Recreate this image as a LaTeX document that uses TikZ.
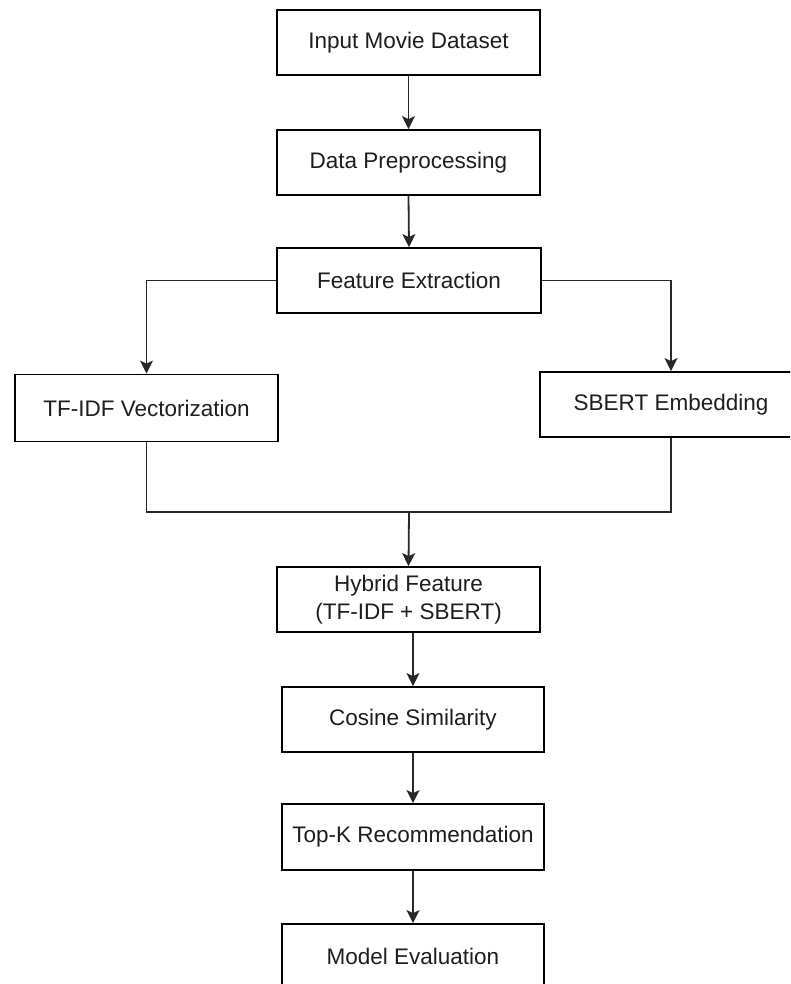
\documentclass[tikz,border=0pt]{standalone}
\usepackage{fontspec}
\setmainfont{Liberation Sans}
\usetikzlibrary{arrows.meta}
\definecolor{txt}{RGB}{30,30,30}
\definecolor{lin}{RGB}{40,40,40}
\tikzset{
  box/.style={draw=black, line width=1.8pt, fill=white, minimum width=263pt, minimum height=65pt,
    inner sep=0pt, font=\fontsize{22.5}{28}\selectfont, text=txt, align=center},
  conn/.style={line width=1.8pt, draw=lin, -{Stealth[length=13pt,width=13pt,inset=3pt]}},
  plain/.style={line width=1.8pt, draw=lin, line join=miter}
}
\begin{document}
\begin{tikzpicture}[x=1pt,y=-1pt]
\useasboundingbox (0,0) rectangle (790,984);
\fill[white] (0,0) rectangle (790,984);
\clip (0,0) rectangle (790,984);
\node[box] (inp) at (408.5,42.5) {Input Movie Dataset};
\node[box] (pre) at (408.5,162.5) {Data Preprocessing};
\node[box, minimum width=264pt] (fe) at (409,280.5) {Feature Extraction};
\node[box, minimum height=67pt] (tfidf) at (146.5,408) {TF-IDF Vectorization};
\node[box, minimum width=262pt] (sbert) at (671,404.5) {SBERT Embedding};
\node[box] (hyb) at (408.5,599.5) {Hybrid Feature\\(TF-IDF + SBERT)};
\node[box, minimum width=262pt] (cos) at (413,719.5) {Cosine Similarity};
\node[box, minimum width=262pt, minimum height=66pt] (topk) at (413,837) {Top-K Recommendation};
\node[box, minimum width=262pt] (model) at (413,956.5) {Model Evaluation};
\coordinate (mj) at (409,512);
\draw[conn] (inp.south) -- (pre.north);
\draw[conn] (pre.south) -- (fe.north);
\draw[conn] (fe.west) -| (tfidf.north);
\draw[conn] (fe.east) -| (sbert.north);
\draw[plain] (tfidf.south) |- (sbert.south |- mj) -- (sbert.south);
\draw[conn] (mj) -- (hyb.north);
\draw[conn] (cos.north |- hyb.south) -- (cos.north);
\draw[conn] (cos.south) -- (topk.north);
\draw[conn] (topk.south) -- (model.north);
\end{tikzpicture}
\end{document}
